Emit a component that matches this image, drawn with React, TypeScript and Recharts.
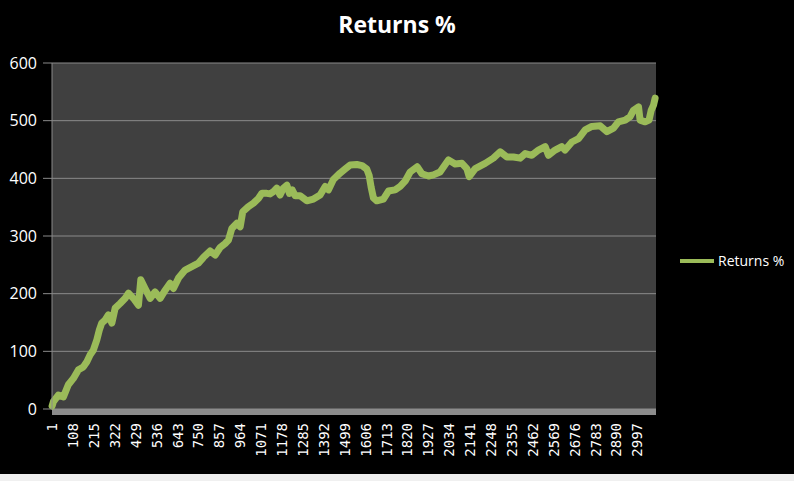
import React from "react";
import {
  LineChart,
  Line,
  XAxis,
  YAxis,
  CartesianGrid,
  ReferenceArea,
} from "recharts";

// values (period index -> cumulative return %)
const periods = [
  1, 8, 33, 59, 84, 110, 136, 161, 179, 196, 212, 230, 243, 255, 272, 289, 307,
  324, 349, 375, 392, 417, 443, 455, 477, 503, 528, 554, 580, 605, 622, 648,
  682, 716, 750, 776, 810, 836, 861, 887, 904, 921, 947, 964, 977, 1006, 1032,
  1057, 1075, 1100, 1117, 1134, 1151, 1168, 1185, 1203, 1216, 1230, 1245, 1271,
  1305, 1339, 1373, 1399, 1416, 1441, 1475, 1501, 1527, 1561, 1588, 1612, 1624,
  1634, 1646, 1663, 1697, 1723, 1757, 1783, 1808, 1834, 1870, 1894, 1928, 1953,
  1987, 2030, 2064, 2099, 2124, 2136, 2167, 2218, 2260, 2295, 2329, 2363, 2397,
  2423, 2457, 2491, 2525, 2542, 2576, 2610, 2627, 2662, 2696, 2730, 2764, 2807,
  2841, 2875, 2900, 2935, 2960, 2977, 3003, 3011, 3037, 3057, 3068, 3080, 3088,
];
const returnsPct = [
  5, 13, 24, 21, 42, 53, 68, 73, 82, 94, 102, 120, 137, 149, 154, 163, 149,
  175, 183, 192, 201, 192, 180, 224, 209, 192, 203, 192, 206, 218, 209, 227,
  241, 247, 253, 263, 274, 267, 280, 287, 293, 313, 322, 316, 342, 351, 357,
  365, 374, 374, 373, 377, 383, 371, 383, 388, 374, 380, 370, 370,
  361, 364, 371, 386, 380, 398, 409, 416, 423, 424, 422, 416, 405,
  385, 366, 361, 364, 378, 380, 386, 395, 411, 420, 408, 404, 406,
  411, 432, 425, 426, 417, 403, 417, 426, 435, 446, 437, 437, 435,
  443, 440, 449, 455, 440, 449, 455, 449, 463, 469, 484, 490, 491,
  481, 487, 498, 501, 507, 518, 524, 501, 498, 501, 518, 527, 539,
];
const xTicks = [
  1, 108, 215, 322, 429, 536, 643, 750, 857, 964, 1071, 1178, 1285, 1392, 1499,
  1606, 1713, 1820, 1927, 2034, 2141, 2248, 2355, 2462, 2569, 2676, 2783, 2890,
  2997,
];
const yTicks = [0, 100, 200, 300, 400, 500, 600];
const seriesName = "Returns %";

const data = periods.map((p, i) => ({ period: p, value: returnsPct[i] }));

const XTick = (props: any) => {
  const { x, y, payload } = props;
  return (
    <text
      x={x}
      y={y}
      dy={5}
      transform={`rotate(-90 ${x} ${y})`}
      textAnchor="end"
      fill="#ffffff"
      fontSize={14}
      fontFamily="DejaVu Sans Mono"
    >
      {payload.value}
    </text>
  );
};

export default function App() {
  return (
    <div
      style={{
        position: "absolute",
        left: 0,
        top: 0,
        width: 794,
        height: 481,
        background: "#f0f0f0",
      }}
    >
      <div
        style={{
          position: "relative",
          width: 794,
          height: 474,
          background: "#000000",
          overflow: "hidden",
        }}
      >
        <div
          style={{
            position: "absolute",
            top: 13,
            left: 0,
            width: 794,
            textAlign: "center",
            color: "#ffffff",
            fontFamily: "Open Sans",
            fontWeight: 700,
            fontSize: 23,
            lineHeight: "23px",
          }}
        >
          {seriesName}
        </div>
        <LineChart
          width={794}
          height={481}
          data={data}
          margin={{ top: 63, right: 138, bottom: 0, left: 0 }}
        >
          <CartesianGrid
            vertical={false}
            stroke="#8a8a8a"
            fill="#404040"
            fillOpacity={1}
          />
          <XAxis
            dataKey="period"
            type="number"
            domain={[0.5, 3092.5]}
            ticks={xTicks}
            interval={0}
            axisLine={false}
            tickLine={false}
            tickSize={0}
            tickMargin={14}
            height={72}
            tick={<XTick />}
          />
          <YAxis
            domain={[0, 600]}
            ticks={yTicks}
            width={52}
            axisLine={{ stroke: "#8a8a8a" }}
            tickLine={{ stroke: "#8a8a8a" }}
            tickSize={9}
            tickMargin={6}
            tick={{ fill: "#ffffff", fontSize: 16, fontFamily: "Open Sans" }}
          />
          <ReferenceArea
            y1={-10.4}
            y2={0}
            ifOverflow="visible"
            fill="#8c8c8c"
            fillOpacity={1}
            stroke="none"
          />
          <Line
            type="linear"
            dataKey="value"
            name={seriesName}
            stroke="#9bbb59"
            strokeWidth={7}
            strokeLinejoin="round"
            strokeLinecap="round"
            dot={false}
            isAnimationActive={false}
          />
        </LineChart>
        <div
          style={{
            position: "absolute",
            left: 680,
            top: 251,
            display: "flex",
            alignItems: "center",
            color: "#ffffff",
            fontFamily: "Open Sans",
            fontSize: 14,
          }}
        >
          <div
            style={{
              width: 34,
              height: 4,
              background: "#9bbb59",
              marginRight: 4,
            }}
          />
          <span>{seriesName}</span>
        </div>
      </div>
    </div>
  );
}
